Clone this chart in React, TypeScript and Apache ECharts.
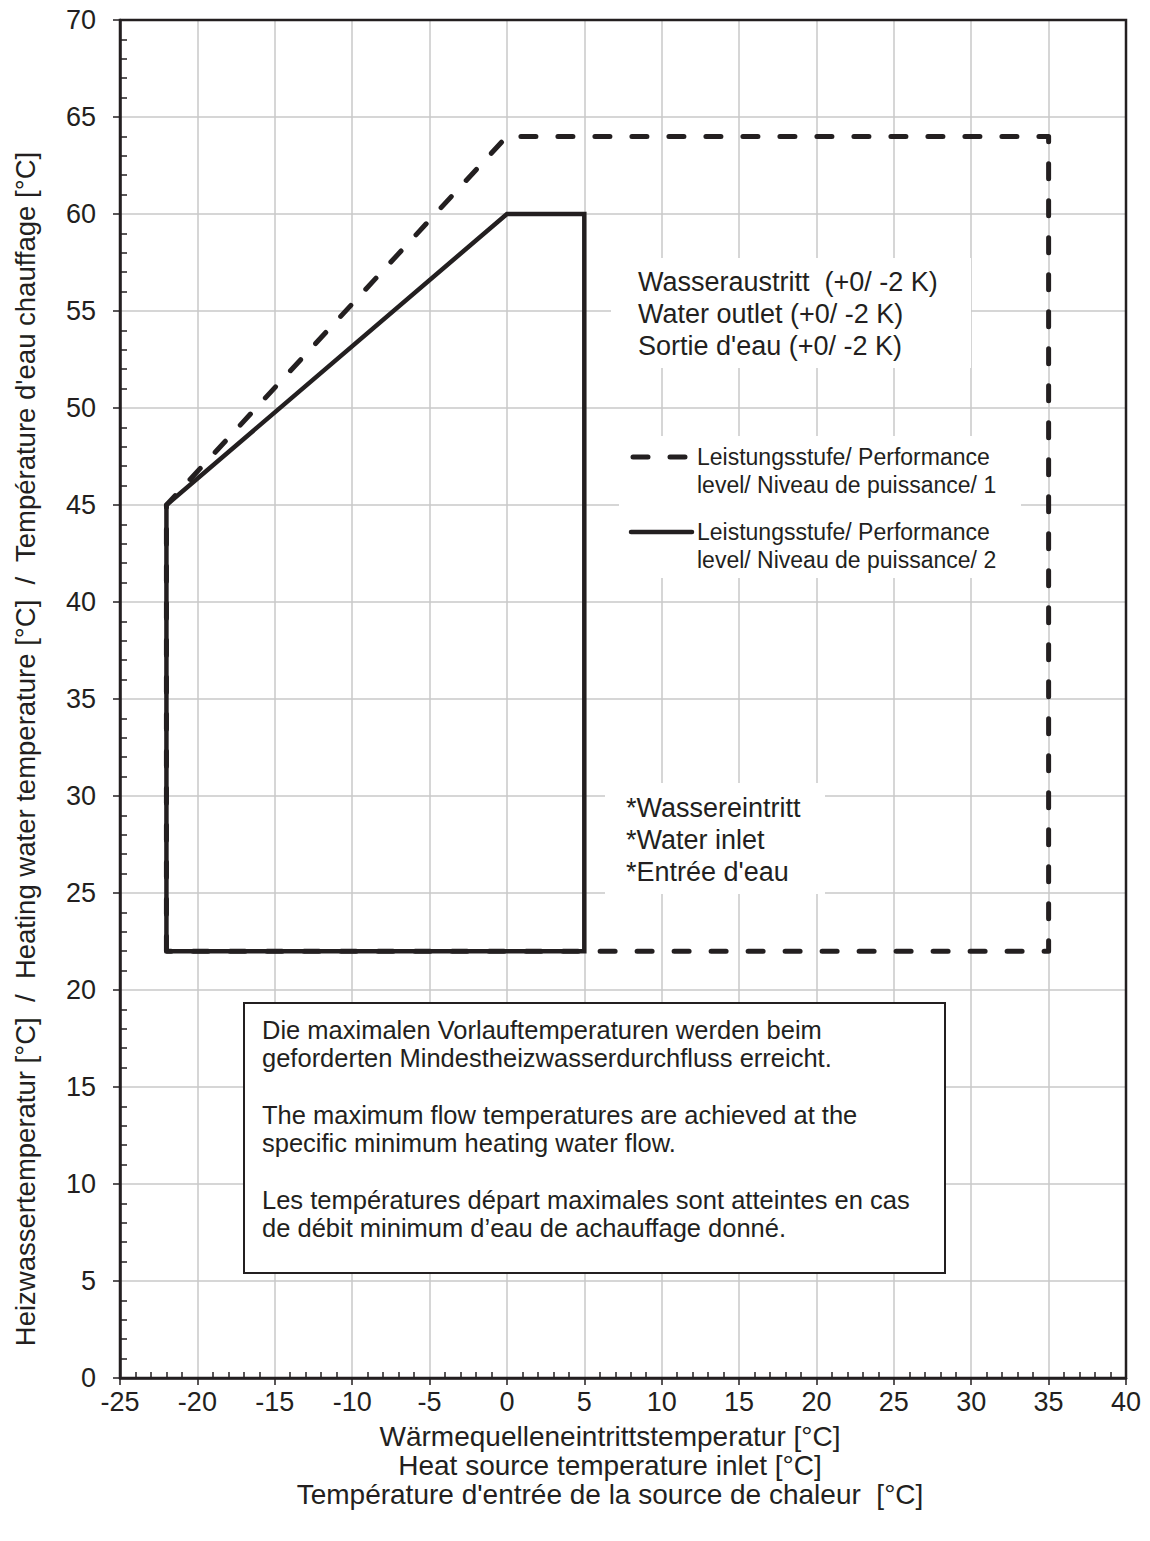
import React, { useEffect, useRef } from "react";
import * as echarts from "echarts";

// Performance level 1 (dashed) and level 2 (solid) envelopes
const level1X = [-22, -22, 0, 35, 35, -22];
const level1Y = [22, 45, 64, 64, 22, 22];
const level2X = [-22, -22, 0, 5, 5, -22];
const level2Y = [22, 45, 60, 60, 22, 22];

const xMin = -25;
const xMax = 40;
const yMin = 0;
const yMax = 70;
const tickStep = 5;

const yAxisTitle =
  "Heizwassertemperatur [°C]  /  Heating water temperature [°C]  /  Température d'eau chauffage [°C]";
const xAxisTitleLines = [
  "Wärmequelleneintrittstemperatur [°C]",
  "Heat source temperature inlet [°C]",
  "Température d'entrée de la source de chaleur  [°C]",
];
const outletLines = ["Wasseraustritt  (+0/ -2 K)", "Water outlet (+0/ -2 K)", "Sortie d'eau (+0/ -2 K)"];
const inletLines = ["*Wassereintritt", "*Water inlet", "*Entrée d'eau"];
const legend1Lines = ["Leistungsstufe/ Performance", "level/ Niveau de puissance/ 1"];
const legend2Lines = ["Leistungsstufe/ Performance", "level/ Niveau de puissance/ 2"];
const noteLines = [
  "Die maximalen Vorlauftemperaturen werden beim",
  "geforderten Mindestheizwasserdurchfluss erreicht.",
  "",
  "The maximum flow temperatures are achieved at the",
  "specific minimum heating water flow.",
  "",
  "Les températures départ maximales sont atteintes en cas",
  "de débit minimum d’eau de achauffage donné.",
];

const FONT = "'Liberation Sans', Arial, Helvetica, sans-serif";
const INK = "#231f20";

const toPairs = (xs: number[], ys: number[]) => xs.map((x, i) => [x, ys[i]]);

export default function App() {
  const ref = useRef<HTMLDivElement>(null);
  useEffect(() => {
    document.body.style.margin = "0";
    const chart = echarts.init(ref.current!, null, { renderer: "svg" });
    const gridRect = { left: 120, top: 20, width: 1006, height: 1358 };

    const textEl = (x: number, y: number, text: string, size: number, align = "left") => ({
      type: "text",
      x,
      y,
      z: 20,
      style: {
        text,
        fill: INK,
        font: `${size}px ${FONT}`,
        textAlign: align,
        textVerticalAlign: "middle",
      },
    });

    const graphics: any[] = [];
    // plot frame
    graphics.push({
      type: "rect",
      z: 6,
      shape: { x: gridRect.left, y: gridRect.top, width: gridRect.width, height: gridRect.height },
      style: { fill: "none", stroke: INK, lineWidth: 2.5 },
      silent: true,
    });
    // white backgrounds
    graphics.push({ type: "rect", z: 10, shape: { x: 611, y: 258, width: 360, height: 110 }, style: { fill: "#fff" } });
    graphics.push({ type: "rect", z: 10, shape: { x: 619, y: 436, width: 402, height: 142 }, style: { fill: "#fff" } });
    graphics.push({ type: "rect", z: 10, shape: { x: 605, y: 783, width: 220, height: 111 }, style: { fill: "#fff" } });
    graphics.push({
      type: "rect",
      z: 10,
      shape: { x: 244, y: 1003, width: 701, height: 270 },
      style: { fill: "#fff", stroke: INK, lineWidth: 2 },
    });
    outletLines.forEach((t, i) => graphics.push(textEl(638, 282 + i * 32, t, 27)));
    inletLines.forEach((t, i) => graphics.push(textEl(626, 808 + i * 32, t, 27)));
    legend1Lines.forEach((t, i) => graphics.push(textEl(697, 457 + i * 28, t, 23)));
    legend2Lines.forEach((t, i) => graphics.push(textEl(697, 532 + i * 28, t, 23)));
    graphics.push({
      type: "line",
      z: 20,
      shape: { x1: 633, y1: 457, x2: 690, y2: 457 },
      style: { stroke: INK, lineWidth: 5, lineDash: [15, 22], lineCap: "round" },
    });
    graphics.push({
      type: "line",
      z: 20,
      shape: { x1: 631, y1: 532, x2: 692, y2: 532 },
      style: { stroke: INK, lineWidth: 4.5, lineCap: "round" },
    });
    noteLines.forEach((t, i) => {
      if (t) graphics.push(textEl(262, 1030 + i * 28.3, t, 25.5));
    });
    xAxisTitleLines.forEach((t, i) => graphics.push(textEl(610, 1436 + i * 29, t, 28, "center")));
    // rotated y-axis title
    graphics.push({
      type: "text",
      x: 25,
      y: 749,
      rotation: Math.PI / 2,
      z: 20,
      style: {
        text: yAxisTitle,
        fill: INK,
        font: `27.5px ${FONT}`,
        textAlign: "center",
        textVerticalAlign: "middle",
      },
    });

    chart.setOption({
      animation: false,
      backgroundColor: "#fff",
      textStyle: { fontFamily: FONT },
      grid: [
        { ...gridRect, show: true, borderWidth: 0, backgroundColor: "#fff" },
        { ...gridRect, show: false },
      ],
      xAxis: [
        {
          type: "value",
          gridIndex: 0,
          min: xMin,
          max: xMax,
          interval: tickStep,
          axisLine: { show: true, onZero: false, lineStyle: { color: INK, width: 2.5 } },
          axisTick: { show: true, inside: false, length: 7, lineStyle: { color: INK, width: 1.5 } },
          axisLabel: { color: INK, fontSize: 27, margin: 10, fontFamily: FONT },
          splitLine: { show: true, lineStyle: { color: "#c8c8c8", width: 1.5 } },
        },
        {
          type: "value",
          gridIndex: 1,
          min: xMin,
          max: xMax,
          interval: tickStep,
          axisLine: { show: false, onZero: false },
          axisTick: { show: false, inside: true },
          minorTick: { show: true, splitNumber: 5, length: 6, lineStyle: { color: INK, width: 1.5 } },
          axisLabel: { show: false },
          splitLine: { show: false },
        },
      ],
      yAxis: [
        {
          type: "value",
          gridIndex: 0,
          min: yMin,
          max: yMax,
          interval: tickStep,
          axisLine: { show: true, onZero: false, lineStyle: { color: INK, width: 2.5 } },
          axisTick: { show: true, inside: false, length: 7, lineStyle: { color: INK, width: 1.5 } },
          axisLabel: { color: INK, fontSize: 27, margin: 24, fontFamily: FONT },
          splitLine: { show: true, lineStyle: { color: "#c8c8c8", width: 1.5 } },
        },
        {
          type: "value",
          gridIndex: 1,
          min: yMin,
          max: yMax,
          interval: tickStep,
          axisLine: { show: false, onZero: false },
          axisTick: { show: false, inside: true },
          minorTick: { show: true, splitNumber: 5, length: 7, lineStyle: { color: INK, width: 1.5 } },
          axisLabel: { show: false },
          splitLine: { show: false },
        },
      ],
      series: [
        {
          name: "Leistungsstufe 1",
          type: "line",
          xAxisIndex: 0,
          yAxisIndex: 0,
          data: toPairs(level1X, level1Y),
          showSymbol: false,
          symbol: "none",
          lineStyle: { color: INK, width: 5, type: [15, 22], cap: "round", join: "round" },
          z: 3,
        },
        {
          name: "Leistungsstufe 2",
          type: "line",
          xAxisIndex: 0,
          yAxisIndex: 0,
          data: toPairs(level2X, level2Y),
          showSymbol: false,
          symbol: "none",
          lineStyle: { color: INK, width: 4.5, cap: "butt", join: "miter" },
          z: 4,
        },
      ],
      graphic: graphics,
    });
    return () => chart.dispose();
  }, []);
  return <div ref={ref} style={{ width: 1150, height: 1541 }} />;
}
